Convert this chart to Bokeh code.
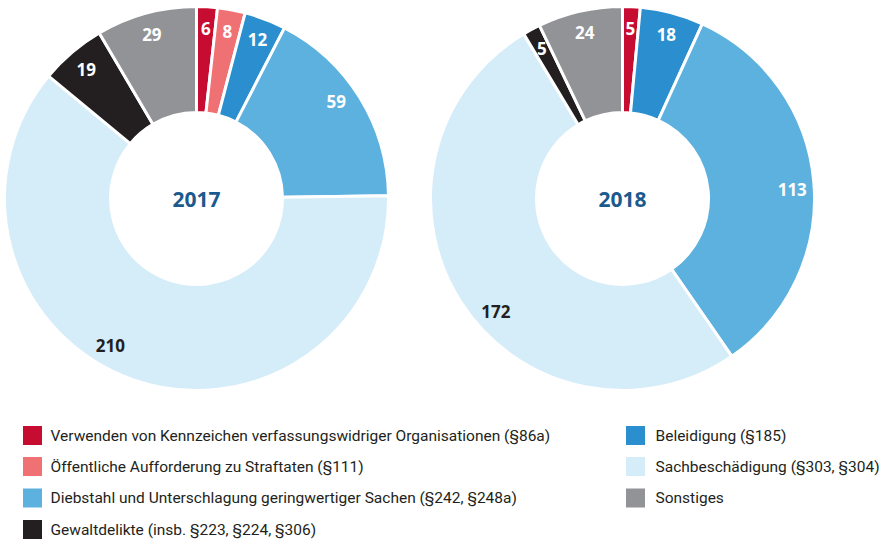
import numpy as np
from bokeh.plotting import figure
from bokeh.models import Range1d, ColumnDataSource
from bokeh.core.properties import value
from bokeh.embed import file_html
from bokeh.resources import INLINE

# ---------------- data ----------------
categories = [
    "Verwenden von Kennzeichen verfassungswidriger Organisationen (§86a)",
    "Öffentliche Aufforderung zu Straftaten (§111)",
    "Beleidigung (§185)",
    "Diebstahl und Unterschlagung geringwertiger Sachen (§242, §248a)",
    "Sachbeschädigung (§303, §304)",
    "Gewaltdelikte (insb. §223, §224, §306)",
    "Sonstiges",
]
values_2017 = [6, 8, 12, 59, 210, 19, 29]
values_2018 = [5, 0, 18, 113, 172, 5, 24]
years = ["2017", "2018"]

# ---------------- styles ----------------
colors = ["#C60C30", "#F07173", "#2B8FCF", "#5DB1DF", "#D5ECF9", "#231F20", "#929396"]
label_colors = ["#FFFFFF", "#FFFFFF", "#FFFFFF", "#FFFFFF", "#231F20", "#FFFFFF", "#FFFFFF"]
label_shift_2017 = [0, 0, 0, -3, 11, 0, 0]
label_shift_2018 = [0, 0, 0, 2, -9, 0, 0]
legend_col1 = [0, 1, 3, 5]
legend_col2 = [2, 4, 6]

W, H = 893, 540


def py(page_y):
    return H - page_y


p = figure(width=W, height=H, output_backend="svg", toolbar_location=None,
           x_range=Range1d(0, W), y_range=Range1d(0, H),
           min_border=0)
p.axis.visible = False
p.grid.visible = False
p.outline_line_color = None
p.background_fill_color = "white"

R_OUT, R_IN, R_LAB = 191, 87, 170
centers = [(196, 198), (622, 198)]

for vals, shifts, (cx, cyp), year in zip([values_2017, values_2018],
                                         [label_shift_2017, label_shift_2018],
                                         centers, years):
    cy = py(cyp)
    total = float(sum(vals))
    cum = np.cumsum([0] + vals)
    starts, ends, cols, lx, ly, lt, lc = [], [], [], [], [], [], []
    for i, v in enumerate(vals):
        if v == 0:
            continue
        a0 = cum[i] / total * 2 * np.pi
        a1 = cum[i + 1] / total * 2 * np.pi
        starts.append(np.pi / 2 - a0)
        ends.append(np.pi / 2 - a1)
        cols.append(colors[i])
        mid = (a0 + a1) / 2 + np.deg2rad(shifts[i])
        lx.append(cx + R_LAB * np.sin(mid))
        ly.append(cy + R_LAB * np.cos(mid))
        lt.append(str(v))
        lc.append(label_colors[i])
    src = ColumnDataSource(dict(s=starts, e=ends, c=cols))
    p.annular_wedge(x=cx, y=cy, inner_radius=R_IN - 1, outer_radius=R_OUT + 1,
                    start_angle="s", end_angle="e", direction="clock",
                    fill_color="c", line_color="white", line_width=3, source=src)
    lsrc = ColumnDataSource(dict(x=lx, y=ly, t=lt, c=lc))
    p.text(x="x", y="y", text="t", text_color="c", source=lsrc,
           text_font=value("Open Sans"), text_font_style="bold",
           text_font_size="17px", text_align="center", text_baseline="middle")
    p.text(x=[cx], y=[py(199)], text=[year], text_color="#1B5A8E",
           text_font=value("Open Sans"), text_font_style="bold",
           text_font_size="21px", text_align="center", text_baseline="middle")

# ---------------- legend ----------------
row_y = [435, 466, 497.5, 529]
for col_items, sq_x, tx in [(legend_col1, 32, 50), (legend_col2, 635, 655)]:
    ys = [py(row_y[k]) for k in range(len(col_items))]
    p.rect(x=[sq_x] * len(col_items), y=ys, width=19, height=19,
           fill_color=[colors[i] for i in col_items], line_color=None)
    p.text(x=[tx] * len(col_items), y=ys, text=[categories[i] for i in col_items],
           text_color="#231F20", text_font=value("Roboto"),
           text_font_size="15.5px", text_align="left", text_baseline="middle")

open("out.html", "w").write(file_html(p, INLINE))
